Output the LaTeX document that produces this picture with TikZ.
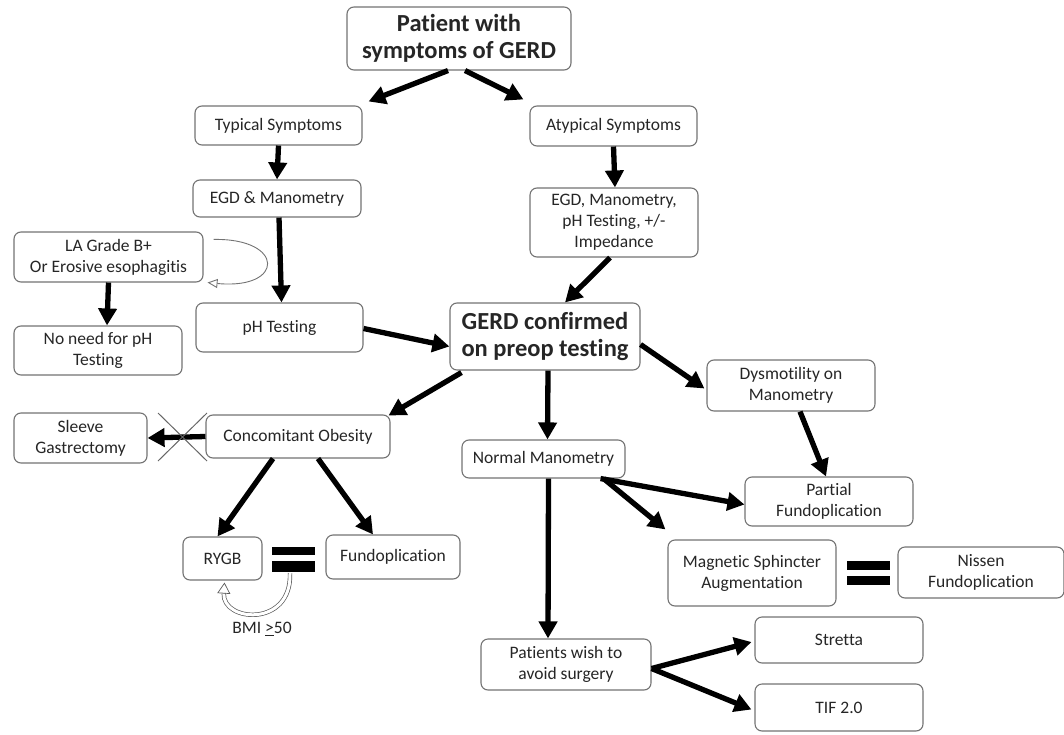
\documentclass[tikz,border=0pt]{standalone}
\usepackage{fontspec}
\setmainfont{Carlito}[Ligatures={NoCommon}]
\usetikzlibrary{arrows.meta}
\begin{document}
\begin{tikzpicture}[x=1pt,y=-1pt,
  box/.style={draw=black!55, rounded corners=7pt, fill=white, align=center,
    font=\fontsize{17.5}{21}\selectfont, inner sep=1pt, line width=1.1pt, text=black!85},
  big/.style={box, font=\bfseries\fontsize{24.5}{27}\selectfont},
  arr/.style={line width=5.3pt, -{Triangle[length=17pt,width=18pt]}},
  bar/.style={fill=black}]
\useasboundingbox (0,0) rectangle (1064,735);
% nodes
\node[big, minimum width=224pt, minimum height=63pt] (pat) at (459,38.5) {Patient with\\symptoms of GERD};
\node[box, minimum width=167pt, minimum height=39pt] (typ) at (278.5,125.5) {Typical Symptoms};
\node[box, minimum width=167pt, minimum height=40pt] (atyp) at (613.5,126) {Atypical Symptoms};
\node[box, minimum width=168pt, minimum height=37pt] (egd) at (277,198.5) {EGD \& Manometry};
\node[box, minimum width=168pt, minimum height=69pt] (egdb) at (614,222.5) {EGD, Manometry,\\pH Testing, +/-\\Impedance};
\node[box, minimum width=189pt, minimum height=50pt] (la) at (108.5,257) {LA Grade B+\\Or Erosive esophagitis};
\node[box, minimum width=167pt, minimum height=49pt] (ph) at (279.5,327.5) {pH Testing};
\node[box, minimum width=168pt, minimum height=49pt] (noneed) at (98,350.5) {No need for pH\\Testing};
\node[big, minimum width=190pt, minimum height=67pt] (gerd) at (545,336.5) {GERD confirmed\\on preop testing};
\node[box, minimum width=168pt, minimum height=51pt] (dys) at (791,385.5) {Dysmotility on\\Manometry};
\node[box, minimum width=133pt, minimum height=50pt] (sleeve) at (80.5,438) {Sleeve\\Gastrectomy};
\node[box, minimum width=184pt, minimum height=43pt] (obes) at (298,436.5) {Concomitant Obesity};
\node[box, minimum width=163pt, minimum height=38pt] (normal) at (543.5,459) {Normal Manometry};
\node[box, minimum width=168pt, minimum height=49pt] (partial) at (829,501.5) {Partial\\Fundoplication};
\node[box, minimum width=79pt, minimum height=43pt] (rygb) at (222.5,558.5) {RYGB};
\node[box, minimum width=134pt, minimum height=44pt] (fundo) at (393,557) {Fundoplication};
\node[box, minimum width=168pt, minimum height=66pt] (msa) at (752,573) {Magnetic Sphincter\\Augmentation};
\node[box, minimum width=166pt, minimum height=51pt] (nissen) at (981,572.5) {Nissen\\Fundoplication};
\node[box, minimum width=168pt, minimum height=46pt] (stretta) at (839,640) {Stretta};
\node[box, minimum width=170pt, minimum height=51pt] (wish) at (566,664.5) {Patients wish to\\avoid surgery};
\node[box, minimum width=168pt, minimum height=47pt] (tif) at (839,707.5) {TIF 2.0};
\node[font=\fontsize{17.5}{21}\selectfont, text=black!85] (bmi) at (262,629) {BMI \underline{>}50};
% equals signs
\fill[bar] (272,547) rectangle (315,555);
\fill[bar] (272,561) rectangle (315,572);
\fill[bar] (847,561) rectangle (890,570);
\fill[bar] (847,576) rectangle (890,585);
% arrows
\draw[arr] ([xshift=-11pt]pat.south) -- ([xshift=6pt,yshift=4pt]typ.north east);
\draw[arr] ([xshift=6pt]pat.south) -- ([xshift=-6pt,yshift=6pt]atyp.north west);
\draw[arr] (typ.south) -- (egd.north);
\draw[arr] (atyp.south) -- ([xshift=1pt]egdb.north);
\draw[arr] ([xshift=2pt]egd.south) -- ([xshift=2pt]ph.north);
\draw[arr] (la.south) -- ([xshift=9pt]noneed.north);
\draw[arr] ([yshift=-1pt]ph.east) -- ([yshift=-10pt]gerd.west);
\draw[arr] ([xshift=-4pt]egdb.south) -- ([xshift=20pt]gerd.north);
\draw[arr] ([xshift=12pt,yshift=-2pt]gerd.south west) -- ([xshift=-2pt,yshift=-1pt]obes.north east);
\draw[arr] ([xshift=3pt]gerd.south) -- ([xshift=4pt]normal.north);
\draw[arr] ([yshift=-8pt]gerd.east) -- ([xshift=-2pt,yshift=-3pt]dys.west);
\draw[arr] (obes.west) -- (sleeve.east);
\draw[black!60, line width=1pt] (158,413) -- (207,461) (207,413) -- (158,461);
\draw[arr] ([xshift=-25pt]obes.south) -- ([xshift=-5pt]rygb.north);
\draw[arr] ([xshift=20pt]obes.south) -- ([xshift=-20pt]fundo.north);
\draw[arr] ([xshift=5pt]normal.south) -- ([xshift=-18pt]wish.north);
\draw[arr] ([xshift=-25pt]normal.south east) -- ([yshift=-3pt]partial.west);
\draw[arr] ([xshift=-22pt]normal.south east) -- ([xshift=-2pt,yshift=10pt]msa.north west);
\draw[arr] ([xshift=9pt]dys.south) -- ([xshift=-3pt]partial.north);
\draw[arr] ([yshift=-4pt]wish.east) -- ([xshift=-3pt,yshift=-2pt]stretta.west);
\draw[arr] ([yshift=-4pt]wish.east) -- ([xshift=-3pt,yshift=-2pt]tif.west);
% curved open arrows
\coordinate (laA) at ([xshift=10pt,yshift=-8pt]la.north east);
\draw[black!55, line width=0.9pt, -{Triangle[open,length=10pt,width=9pt]}] (laA) .. controls (285,238) and (285,290) .. ([xshift=4pt]la.south east);
\coordinate (eqA) at (290,573);
\draw[black!65, line width=0.7pt, double=white, double distance=3pt, -{Triangle[open,length=11pt,width=13pt]}] (eqA) .. controls (292,628) and (222,622) .. ([xshift=2pt,yshift=-2pt]rygb.south);
\end{tikzpicture}
\end{document}
